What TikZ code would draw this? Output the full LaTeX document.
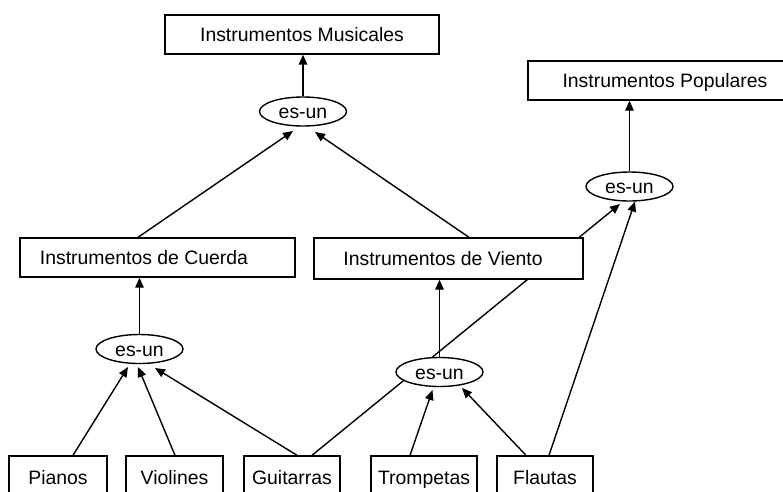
\documentclass[tikz,border=0pt]{standalone}
\usepackage{fontspec}
\setmainfont{Liberation Sans}
\usetikzlibrary{arrows.meta,calc,shapes.geometric,backgrounds}
\begin{document}
\begin{tikzpicture}[x=1pt,y=-1pt,
  every node/.style={font=\fontsize{19.4}{23}\selectfont, text height=14pt, text depth=0pt, inner sep=0pt},
  box/.style={draw, fill=white, line width=1.4pt, minimum height=39pt},
  rel/.style={draw, fill=white, ellipse, line width=1.4pt, minimum width=87pt, minimum height=29pt},
  link/.style={line width=1.4pt, -{Triangle[length=10pt,width=8.5pt]}}]
\clip (0,0) rectangle (783,491);
% boxes
\node[box, minimum width=274pt] (mus) at (302,34.5) {Instrumentos Musicales};
\node[box, minimum width=274pt] (pop) at (665,80.5) {Instrumentos Populares};
\node[box, minimum width=275pt] (cue) at (157.5,257.5) {Instrumentos de Cuerda\kern27pt};
\node[box, minimum width=269pt, minimum height=41pt] (vie) at (448.5,258.5) {Instrumentos de Viento\kern11pt};
% relations
\node[rel] (emus) at (303,111.5) {es-un};
\node[rel] (epop) at (629.5,186.5) {es-un};
\node[rel] (ecue) at (139.5,349) {es-un};
\node[rel] (evie) at (439.5,372) {es-un};
% leaves
\node[box, minimum width=98pt, minimum height=42pt] (pia) at (58,477) {Pianos};
\node[box, minimum width=97pt, minimum height=42pt] (vio) at (174.5,477) {Violines};
\node[box, minimum width=96pt, minimum height=42pt] (gui) at (292,477) {Guitarras};
\node[box, minimum width=106pt, minimum height=42pt] (tro) at (424,477) {Trompetas};
\node[box, minimum width=96pt, minimum height=42pt] (fla) at (545,477) {Flautas};
% connectors
\begin{scope}[on background layer]
\draw[link] ($(gui.north)+(20,0)$) -- ($(epop)+(-9.5,17.5)$);
\draw[link] ($(fla.north)+(4,0)$) -- ($(epop)+(5.5,15)$);
\draw[link] (emus.north) -- (emus.north |- mus.south);
\draw[link] (epop.north) -- (epop.north |- pop.south);
\draw[link] ($(cue.north)+(-19.5,0)$) -- ($(emus)+(-10,19.5)$);
\draw[link] ($(vie.north)+(20.5,0)$) -- ($(emus)+(12,20.5)$);
\draw[link] (ecue.north) -- (ecue.north |- cue.south);
\draw[link] (evie.north) -- (evie.north |- vie.south);
\draw[link] ($(pia.north)+(15,0)$) -- ($(ecue)+(-11.5,18)$);
\draw[link] ($(vio.north)+(0.5,0)$) -- ($(ecue)+(-1.5,18)$);
\draw[link] ($(gui.north)+(5,0)$) -- ($(ecue)+(15.5,19)$);
\draw[link] ($(tro.north)+(-14,0)$) -- ($(evie)+(-7,18)$);
\draw[link] ($(fla.north)+(-19,0)$) -- ($(evie)+(22.5,16)$);
\end{scope}
\end{tikzpicture}
\end{document}
